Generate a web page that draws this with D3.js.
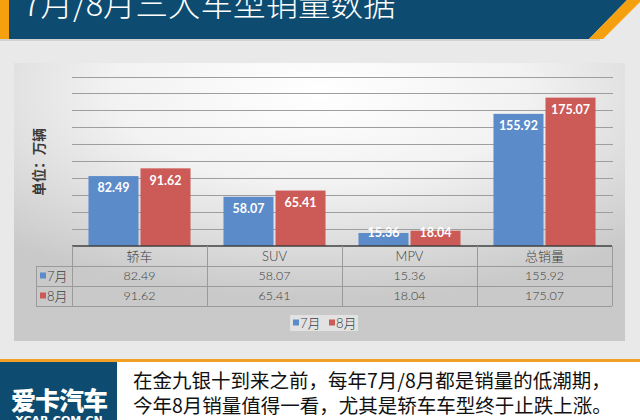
<!DOCTYPE html>
<html><head><meta charset="utf-8">
<script src="https://cdn.jsdelivr.net/npm/d3@7"></script>
<style>
html,body{margin:0;padding:0;background:#e9e9e9;overflow:hidden;}
svg{display:block;}
</style></head>
<body>
<svg id="c" width="640" height="420"></svg>
<script>
const categories = ['轿车','SUV','MPV','总销量'];
const seriesNames = ['7月','8月'];
const julValues = [82.49, 58.07, 15.36, 155.92];
const augValues = [91.62, 65.41, 18.04, 175.07];
const yTicks = [0,20,40,60,80,100,120,140,160,180,200];
const titleText = '7月/8月三大车型销量数据';
const axisTitle = '单位：万辆';
const noteLines = ['在金九银十到来之前，每年7月/8月都是销量的低潮期，','今年8月销量值得一看，尤其是轿车车型终于止跌上涨。'];
const colors = ['#5b8bc8', '#cc5a56'];

const series = [julValues, augValues];
const svg = d3.select('#c');
const defs = svg.append('defs');
const CJK = '"Noto Sans CJK SC","Noto Sans",sans-serif';
const LAT = 'Lato,"Open Sans","Noto Sans CJK SC",sans-serif';

// page background
svg.append('rect').attr('width',640).attr('height',420).attr('fill','#e9e9e9');

// title bar
svg.append('polygon').attr('points','0,0 627,0 589,39 0,39').attr('fill','#0d4c70');
svg.append('polygon').attr('points','627,0 640,0 640,2 603,39 589,39').attr('fill','#f5a00f');
svg.append('rect').attr('x',0).attr('y',0).attr('width',9).attr('height',39).attr('fill','#f5a00f');
svg.append('rect').attr('x',0).attr('y',39).attr('width',600).attr('height',2).attr('fill','#d2d2d2');
svg.append('text').attr('x',23).attr('y',16).attr('fill','#ffffff')
  .attr('font-family',CJK).attr('font-weight',300).attr('font-size',32.5).text(titleText);

// chart panel with gradient
const rg = defs.append('radialGradient').attr('id','pg').attr('cx','0.5').attr('cy','0.1').attr('r','0.75');
rg.append('stop').attr('offset','0').attr('stop-color','#ffffff');
rg.append('stop').attr('offset','0.45').attr('stop-color','#f2f2f2');
rg.append('stop').attr('offset','1').attr('stop-color','#c9c9c9');
svg.append('rect').attr('x',14).attr('y',63).attr('width',611).attr('height',278).attr('fill','url(#pg)');

// scales
const x0 = d3.scaleBand().domain(categories).range([72,612]).padding(0);
const x1 = d3.scaleBand().domain(seriesNames).range([0,x0.bandwidth()]).paddingInner(0.0385).paddingOuter(0.317);
const y = d3.scaleLinear().domain([0,200]).range([246,76.5]);

// gridlines
svg.append('g').selectAll('line').data(yTicks.slice(1)).join('line')
  .attr('x1',72).attr('x2',613).attr('y1',d=>Math.round(y(d))+0.5).attr('y2',d=>Math.round(y(d))+0.5)
  .attr('stroke','#9e9e9e').attr('stroke-width',1);

// bars
const groups = svg.append('g').selectAll('g').data(categories).join('g')
  .attr('transform',c=>`translate(${x0(c)},0)`);
groups.each(function(c,ci){
  const g = d3.select(this);
  seriesNames.forEach((s,si)=>{
    const v = series[si][ci];
    g.append('rect').attr('x',x1(s)).attr('y',y(v)).attr('width',x1.bandwidth()).attr('height',y(0)-y(v))
      .attr('fill',colors[si]);
    const ly = Math.min(y(v)+12, y(0)-13);
    g.append('text').attr('x',x1(s)+x1.bandwidth()/2).attr('y',ly).attr('dy','0.35em')
      .attr('text-anchor','middle').attr('fill','#ffffff').attr('font-family',LAT)
      .attr('font-weight',700).attr('font-size',12.5).text(v.toFixed(2));
  });
});

// axis title
svg.append('text').attr('transform','translate(39,162) rotate(-90)').attr('text-anchor','middle')
  .attr('dy','0.35em').attr('fill','#3a3a3a').attr('font-family',CJK).attr('font-weight',700)
  .attr('font-size',13.5).text(axisTitle);

// data table
const rowY = [246,266,286,306];
const tg = svg.append('g');
const gridC = '#9a9a9a';
tg.append('line').attr('x1',72).attr('x2',612).attr('y1',y(0)).attr('y2',y(0)).attr('stroke','#404040').attr('stroke-width',1.5);
[266,286,306].forEach(yy=>{
  tg.append('line').attr('x1',36).attr('x2',612).attr('y1',yy+0.5).attr('y2',yy+0.5).attr('stroke',gridC);
});
const vx = [72].concat(categories.map(c=>x0(c)+x0.bandwidth()));
vx.forEach(xx=>{
  tg.append('line').attr('x1',Math.round(xx)+0.5).attr('x2',Math.round(xx)+0.5).attr('y1',246).attr('y2',306).attr('stroke',gridC);
});
tg.append('line').attr('x1',36.5).attr('x2',36.5).attr('y1',266).attr('y2',306).attr('stroke',gridC);
tg.selectAll('text.h').data(categories).join('text').attr('class','h')
  .attr('x',c=>x0(c)+x0.bandwidth()/2).attr('y',256).attr('dy','0.35em').attr('text-anchor','middle')
  .attr('fill','#404040').attr('font-family',LAT).attr('font-weight',300).attr('font-size',13).text(c=>c);
seriesNames.forEach((s,si)=>{
  const cy = (rowY[si+1]+rowY[si+2])/2;
  tg.append('rect').attr('x',40).attr('y',cy-3.5).attr('width',6).attr('height',6).attr('fill',colors[si]);
  tg.append('text').attr('x',47).attr('y',cy).attr('dy','0.35em').attr('fill','#404040')
    .attr('font-family',LAT).attr('font-weight',300).attr('font-size',13).text(s);
  tg.selectAll('text.v'+si).data(series[si]).join('text').attr('class','v'+si)
    .attr('x',(v,i)=>x0(categories[i])+x0.bandwidth()/2).attr('y',cy).attr('dy','0.35em')
    .attr('text-anchor','middle').attr('fill','#404040').attr('font-family',LAT).attr('font-weight',300)
    .attr('font-size',12.5).text(v=>v.toFixed(2));
});

// legend
const lg = svg.append('g').attr('transform','translate(290,323)');
lg.append('rect').attr('x',0).attr('y',-8).attr('width',68).attr('height',16).attr('fill','#f4f4f4').attr('opacity',0.6);
seriesNames.forEach((s,si)=>{
  const lx = 3 + si*36;
  lg.append('rect').attr('x',lx).attr('y',-3.5).attr('width',6).attr('height',6).attr('fill',colors[si]);
  lg.append('text').attr('x',lx+7).attr('y',0).attr('dy','0.35em').attr('fill','#404040')
    .attr('font-family',LAT).attr('font-weight',300).attr('font-size',13).text(s);
});

// bottom band
svg.append('rect').attr('x',0).attr('y',359).attr('width',640).attr('height',61).attr('fill','#ffffff');
svg.append('rect').attr('x',0).attr('y',359).attr('width',640).attr('height',3).attr('fill','#f0a024');
svg.append('rect').attr('x',0).attr('y',362).attr('width',117).attr('height',58).attr('fill','#0d4c70');
svg.append('text').attr('x',59).attr('y',410).attr('text-anchor','middle').attr('fill','#ffffff')
  .attr('font-family',CJK).attr('font-weight',900).attr('font-size',25).attr('letter-spacing',-1).text('爱卡汽车');
svg.append('text').attr('x',59).attr('y',424).attr('text-anchor','middle').attr('fill','#ffffff')
  .attr('font-family','"DejaVu Sans",sans-serif').attr('font-weight',700).attr('font-size',11).text('XCAR.COM.CN');
svg.selectAll('text.note').data(noteLines).join('text').attr('class','note')
  .attr('x',133).attr('y',(d,i)=>388+i*25).attr('fill','#111111')
  .attr('font-family',CJK).attr('font-size',19.5).text(d=>d);
</script>
</body></html>
